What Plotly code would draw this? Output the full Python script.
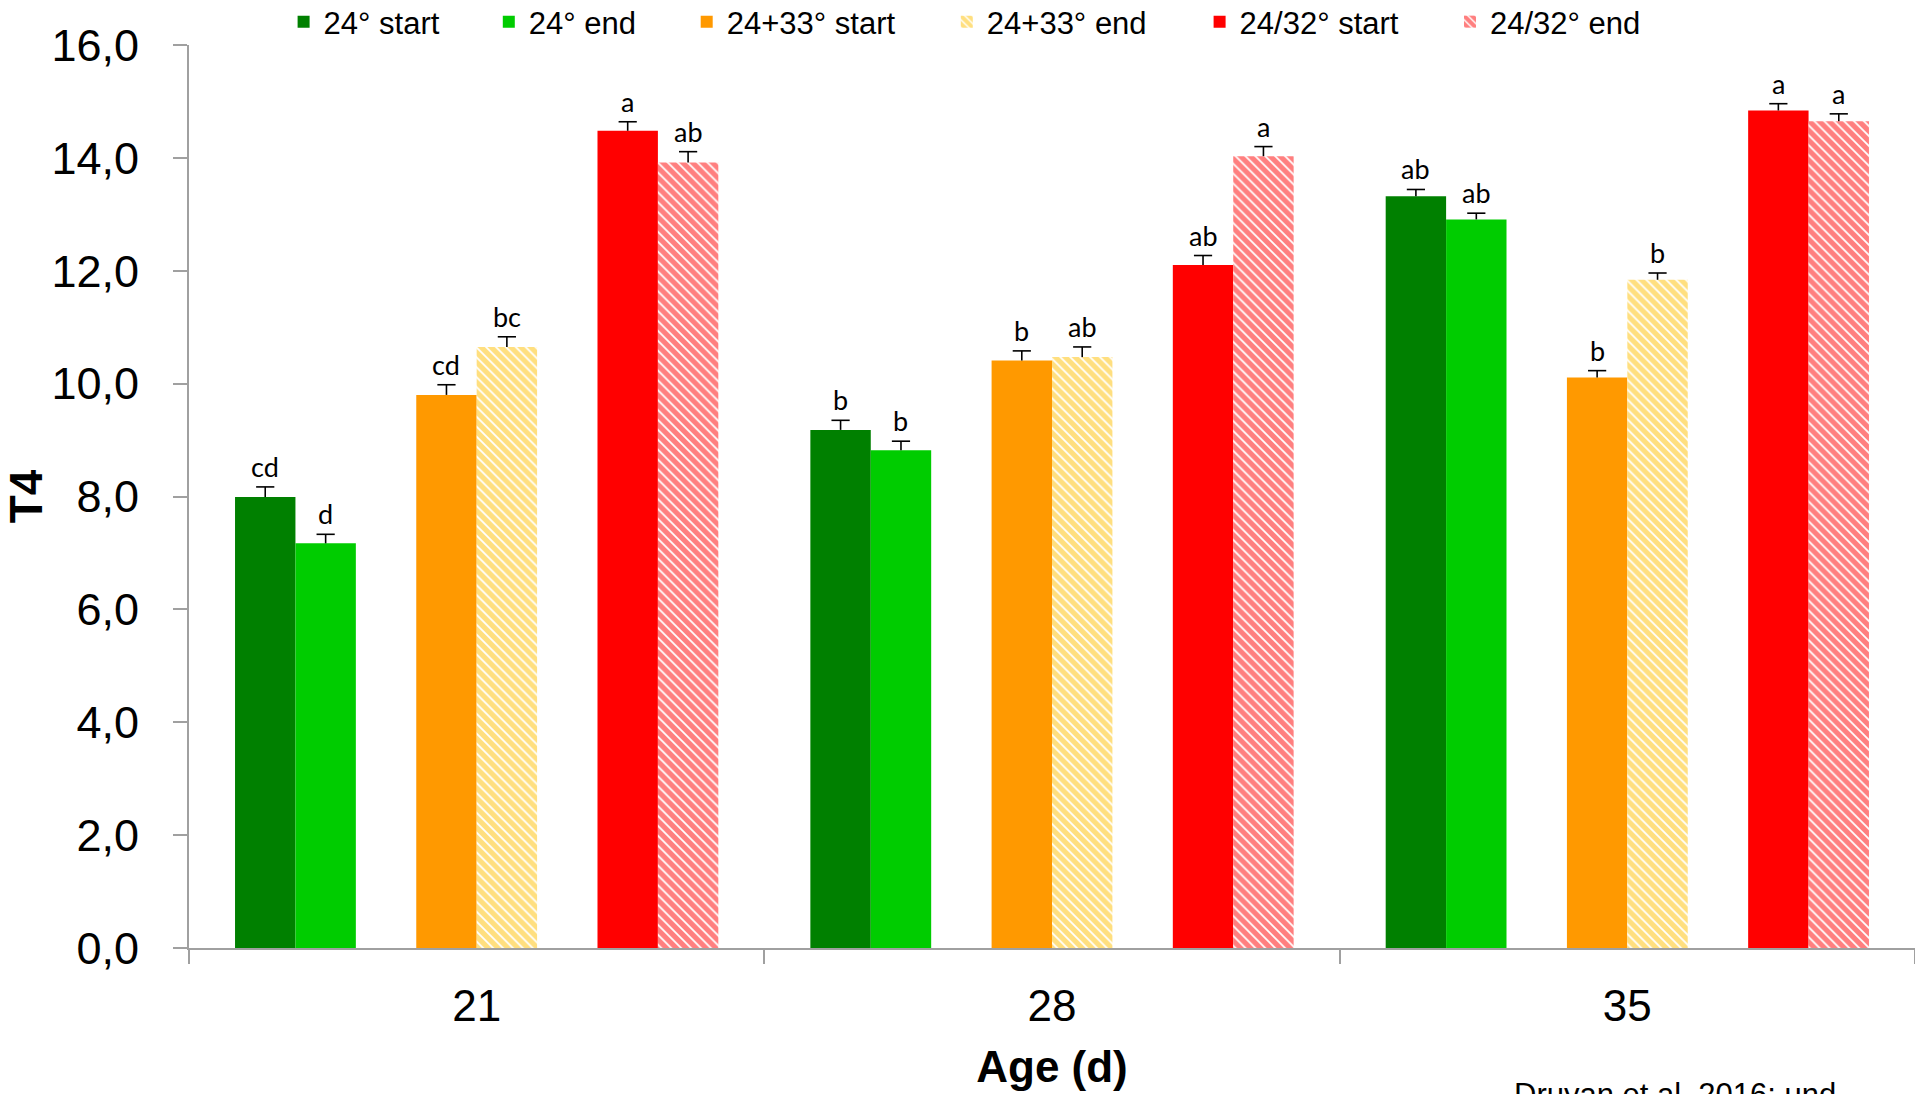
import plotly.graph_objects as go

# ---- data ----
categories = ["21", "28", "35"]
series_names = ["24° start", "24° end", "24+33° start", "24+33° end", "24/32° start", "24/32° end"]

t4_24_start = [7.99, 9.18, 13.32]
t4_24_end = [7.17, 8.82, 12.91]
t4_2433_start = [9.80, 10.41, 10.11]
t4_2433_end = [10.65, 10.47, 11.84]
t4_2432_start = [14.48, 12.10, 14.84]
t4_2432_end = [13.92, 14.03, 14.65]

err_24_start = [0.18, 0.17, 0.12]
err_24_end = [0.16, 0.16, 0.11]
err_2433_start = [0.18, 0.17, 0.12]
err_2433_end = [0.18, 0.18, 0.12]
err_2432_start = [0.16, 0.17, 0.12]
err_2432_end = [0.19, 0.17, 0.13]

let_24_start = ["cd", "b", "ab"]
let_24_end = ["d", "b", "ab"]
let_2433_start = ["cd", "b", "b"]
let_2433_end = ["bc", "ab", "b"]
let_2432_start = ["a", "ab", "a"]
let_2432_end = ["ab", "a", "a"]

y_ticks = [0, 2, 4, 6, 8, 10, 12, 14, 16]
citation = "Druyan et al. 2016; und"

values = [t4_24_start, t4_24_end, t4_2433_start, t4_2433_end, t4_2432_start, t4_2432_end]
errors = [err_24_start, err_24_end, err_2433_start, err_2433_end, err_2432_start, err_2432_end]
letters = [let_24_start, let_24_end, let_2433_start, let_2433_end, let_2432_start, let_2432_end]

# ---- styles ----
colors = ["#008000", "#00CC00", "#FF9900", "#FFC000", "#FF0000", "#FF0000"]
hatched = [False, False, False, True, False, True]
bar_w = 0.105
pair_sep = 0.315
legend_text_x = [323.6, 528.8, 726.7, 986.8, 1239.6, 1490.0]  # px where legend text starts
W, H = 1915, 1094
ML, MR, MT, MB = 189, 0, 45, 146
X_RANGE = [-0.5, 2.5]

fig = go.Figure()
annotations = []
for i, name in enumerate(series_names):
    pair = i // 2
    side = i % 2
    offset = (pair - 1) * pair_sep - bar_w + side * bar_w
    if hatched[i]:
        marker = dict(color="white",
                      pattern=dict(shape="\\", fgcolor=colors[i], bgcolor="white",
                                   size=7, solidity=0.75),
                      line=dict(width=0))
    else:
        marker = dict(color=colors[i], line=dict(width=0))
    lg = "legend" if i == 0 else f"legend{i+1}"
    fig.add_trace(go.Bar(
        x=categories, y=values[i], name=name,
        offset=offset, width=bar_w, marker=marker,
        error_y=dict(type="data", array=errors[i], symmetric=False,
                     arrayminus=[0] * len(errors[i]),
                     color="black", thickness=1.6, width=0),
        legend=lg, showlegend=True,
    ))
    # top caps of the (upper-only) error bars
    cap_x = [j + offset + bar_w / 2 for j in range(len(categories))]
    cap_y = [v + e for v, e in zip(values[i], errors[i])]
    fig.add_trace(go.Scatter(
        x=cap_x, y=cap_y, xaxis="x2", yaxis="y", mode="markers",
        marker=dict(symbol="line-ew", size=13, color="black",
                    line=dict(width=1.6, color="black")),
        showlegend=False, hoverinfo="skip"))
    for j, cat in enumerate(categories):
        annotations.append(dict(
            x=cap_x[j], y=cap_y[j],
            xref="x2", yref="y", text=letters[i][j], showarrow=False,
            yanchor="bottom", xanchor="center", yshift=2,
            font=dict(family="Lato", size=27, color="black")))

annotations.append(dict(
    x=(1512 - ML) / (W - ML - MR), y=(H - MB - 1075) / (H - MT - MB),
    xref="paper", yref="paper", text=citation, showarrow=False,
    xanchor="left", yanchor="top",
    font=dict(family="Liberation Sans", size=31, color="black")))

layout_legends = {}
for i in range(len(series_names)):
    key = "legend" if i == 0 else f"legend{i+1}"
    layout_legends[key] = dict(
        orientation="h", xref="container", yref="container",
        x=(legend_text_x[i] - 40) / W, xanchor="left",
        y=1 - 22 / H, yanchor="middle",
        bgcolor="rgba(0,0,0,0)", borderwidth=0,
        font=dict(family="Liberation Sans", size=31, color="black"),
        itemclick=False, itemdoubleclick=False)

axis_color = "#A0A0A0"
fig.update_layout(
    width=W, height=H,
    margin=dict(l=ML, r=MR, t=MT, b=MB, pad=0, autoexpand=False),
    paper_bgcolor="white", plot_bgcolor="white",
    barmode="overlay",
    separators=",.",
    annotations=annotations,
    xaxis=dict(
        type="category", range=X_RANGE,
        showline=True, linecolor=axis_color, linewidth=2,
        ticks="outside", tickson="boundaries", ticklen=14,
        tickcolor=axis_color, tickwidth=2,
        showgrid=False, zeroline=False,
        tickfont=dict(family="Liberation Sans", size=44, color="black"),
        ticklabelstandoff=18,
        title=dict(text="Age (d)", standoff=22,
                   font=dict(family="Liberation Sans", size=44, color="black", weight="bold")),
        automargin=True, fixedrange=True,
    ),
    xaxis2=dict(overlaying="x", range=X_RANGE, visible=False, fixedrange=True),
    yaxis=dict(
        range=[0, 16], tickvals=y_ticks, tickformat=".1f",
        showline=True, linecolor=axis_color, linewidth=2,
        ticks="outside", ticklen=14, tickcolor=axis_color, tickwidth=2,
        showgrid=False, zeroline=False,
        tickfont=dict(family="Liberation Sans", size=45, color="black"),
        ticklabelstandoff=25,
        title=dict(text="T4", standoff=2,
                   font=dict(family="Liberation Sans", size=46, color="black", weight="bold")),
        automargin=True, fixedrange=True,
    ),
    **layout_legends,
)

fig.write_html("out.html", config={"displayModeBar": False},
               post_script="document.body.style.margin='0';document.body.style.overflow='hidden';")
